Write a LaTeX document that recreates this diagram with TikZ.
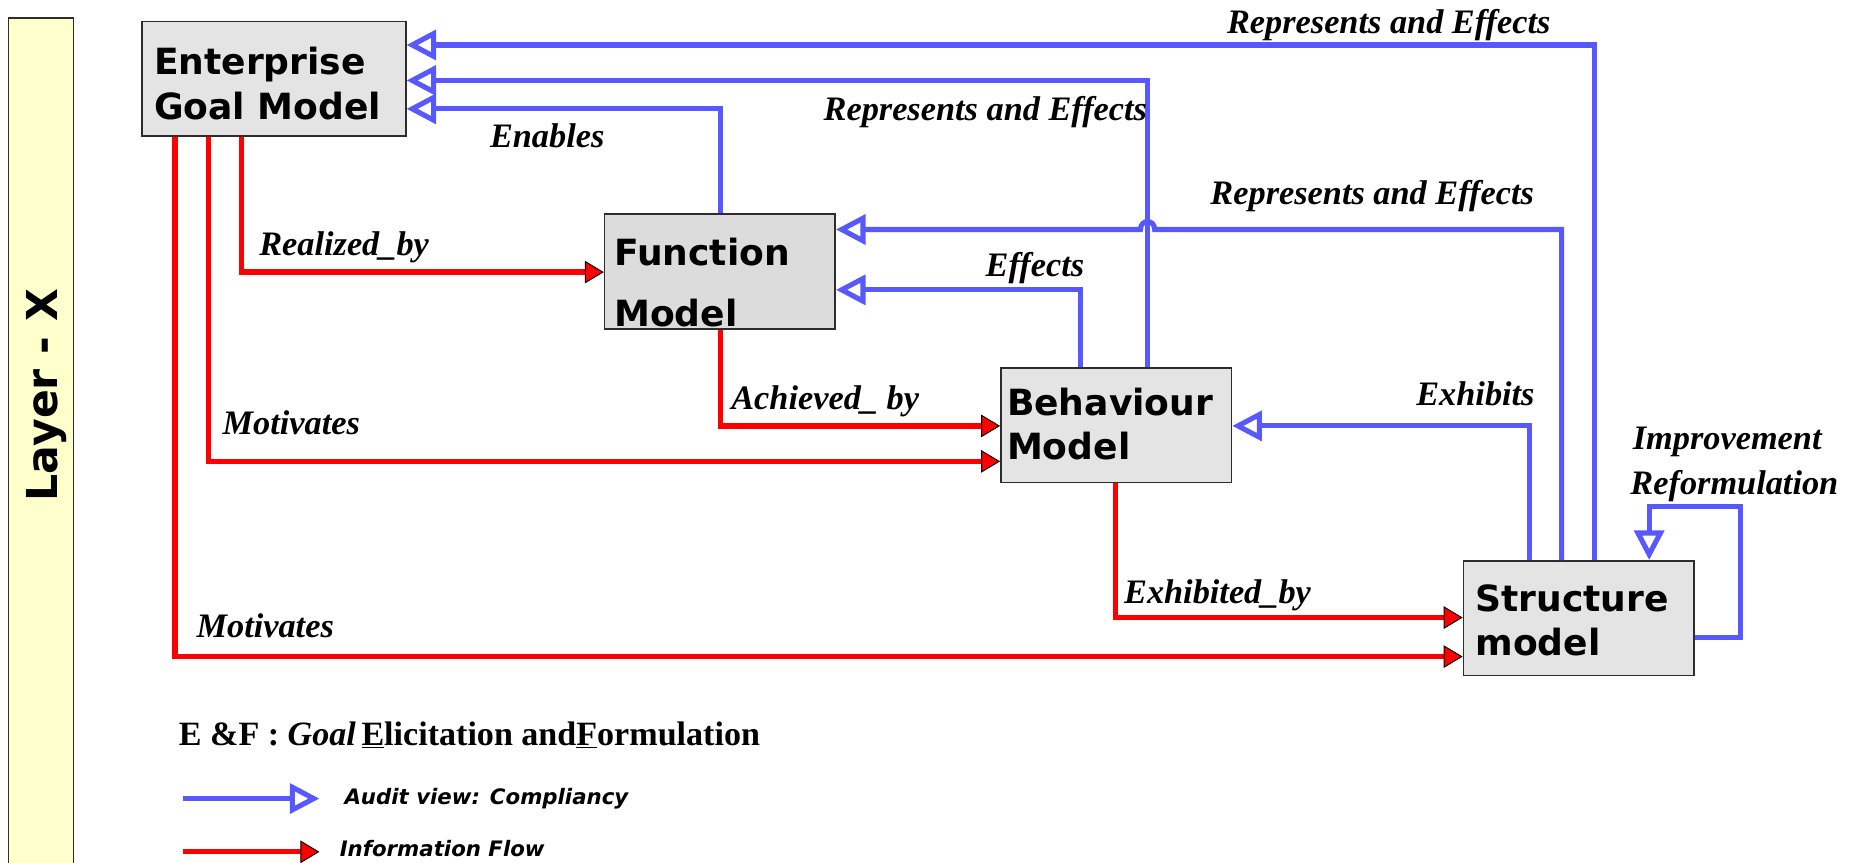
\documentclass[tikz,border=0pt]{standalone}
\usepackage{fontspec}
\setmainfont{Liberation Serif}
\newfontfamily\verd{DejaVu Sans}
\usetikzlibrary{arrows.meta}

\definecolor{auditblue}{RGB}{88,88,255}
\definecolor{flowred}{RGB}{255,0,0}
\definecolor{boxgray}{RGB}{228,228,228}
\definecolor{boxgraydark}{RGB}{220,220,220}
\definecolor{layeryellow}{RGB}{255,255,204}
\definecolor{edgegray}{RGB}{45,45,45}

\begin{document}
\begin{tikzpicture}[x=1pt,y=-1pt,
  model/.style={draw=edgegray, line width=1.3pt, fill=boxgray, inner sep=0pt,
    minimum height=97pt},
  modeltext/.style={anchor=base west, inner sep=0pt,
    font=\verd\bfseries\fontsize{30.5}{36}\selectfont},
  rel/.style={anchor=base west, inner sep=0pt,
    font=\bfseries\itshape\fontsize{29}{34}\selectfont},
  legendtext/.style={anchor=base west, inner sep=0pt,
    font=\verd\bfseries\itshape\fontsize{18}{22}\selectfont},
  audit/.style={draw=auditblue, line width=4.3pt,
    -{Triangle[open, length=25pt, width=25pt, line width=4.3pt]}},
  flow/.style={draw=flowred, line width=4.5pt,
    -{Triangle[length=16pt, width=19pt, fill=flowred, color=black, line width=0.8pt]}},
]
\useasboundingbox (0,0) rectangle (1568,729);

% layer band on the left
\node[draw=edgegray, line width=1.3pt, fill=layeryellow, inner sep=0pt,
  minimum width=55pt, minimum height=740pt] (layer) at (34.5,385) {};
\node[rotate=90, anchor=base, inner sep=0pt,
  font=\verd\bfseries\fontsize{36}{40}\selectfont] (layerT) at (49,334) {Layer - X};

% model boxes
\node[model, minimum width=223pt] (ent) at (231.5,66.5) {};
\node[model, minimum width=195pt, fill=boxgraydark] (fun) at (608.5,229.5) {};
\node[model, minimum width=195pt] (beh) at (943.5,359.5) {};
\node[model, minimum width=195pt] (str) at (1334.5,522.5) {};

\node[modeltext] (entT1) at (130,63) {Enterprise};
\node[modeltext] (entT2) at (130,101) {Goal Model};
\node[modeltext] (funT1) at (519,224) {Function};
\node[modeltext] (funT2) at (519,276) {Model};
\node[modeltext] (behT1) at (851,351) {Behaviour};
\node[modeltext] (behT2) at (851,388) {Model};
\node[modeltext] (strT1) at (1247,517) {Structure};
\node[modeltext] (strT2) at (1247,554) {model};

% audit relations (blue, open heads)
\draw[audit] (str.north -| 1348,0) |- (ent.east |- 0,38);
\draw[audit] (beh.north -| 970,0) |- (ent.east |- 0,68);
\draw[audit] (fun.north -| 609,0) |- (ent.east |- 0,92);
\draw[audit] (str.north -| 1320,0) -- (1320,194) -- (976,194)
  .. controls (976,185) and (964,185) .. (964,194) -- (fun.east |- 0,194);
\draw[audit] (beh.north -| 913,0) |- (fun.east |- 0,245);
\draw[audit] (str.north -| 1293,0) |- (beh.east |- 0,360);
\draw[audit] (str.east |- 0,539) -| (1471,428) -| (str.north -| 1394,0);

% information flow (red, filled heads)
\draw[flow] (ent.south -| 204,0) |- (fun.west |- 0,230);
\draw[flow] (ent.south -| 176,0) |- (beh.west |- 0,390);
\draw[flow] (ent.south -| 148,0) |- (str.west |- 0,555);
\draw[flow] (fun.south -| 609,0) |- (beh.west |- 0,360);
\draw[flow] (beh.south -| 943,0) |- (str.west |- 0,522);

% relation labels
\node[rel] (lRE1) at (1037,28) {Represents and Effects};
\node[rel] (lRE2) at (696,102) {Represents and Effects};
\node[rel] (lRE3) at (1023,173) {Represents and Effects};
\node[rel] (lEna) at (414,125) {Enables};
\node[rel] (lEff) at (833,234) {Effects};
\node[rel] (lExh) at (1197,343) {Exhibits};
\node[rel] (lImp) at (1380,380) {Improvement};
\node[rel] (lRef) at (1378,418) {Reformulation};
\node[rel] (lRea) at (219,216) {Realized\_by};
\node[rel] (lMo1) at (188,367) {Motivates};
\node[rel] (lMo2) at (166,539) {Motivates};
\node[rel] (lAch) at (618,346) {Achieved\_ by};
\node[rel] (lExb) at (950,510) {Exhibited\_by};

% legend
\node[anchor=base west, inner sep=0pt, font=\bfseries\fontsize{28.8}{34}\selectfont] (ef)
  at (151,630) {E \&F : \textit{Goal}\,\underline{E}licitation and\underline{F}ormulation};
\coordinate (lgA1) at (155,675);
\coordinate (lgA2) at (270,675);
\draw[audit] (lgA1) -- (lgA2);
\node[legendtext] (lgAT) at (291,680) {Audit view: Compliancy};
\coordinate (lgR1) at (155,720);
\coordinate (lgR2) at (270,720);
\draw[flow] (lgR1) -- (lgR2);
\node[legendtext] (lgRT) at (287,724) {Information Flow};
\end{tikzpicture}
\end{document}
